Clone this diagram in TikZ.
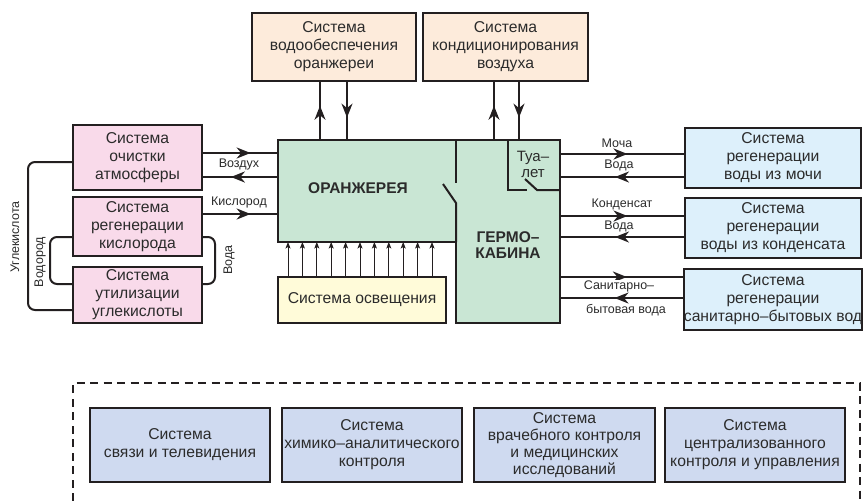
\documentclass[tikz,border=0pt]{standalone}
\usepackage{fontspec}
\setmainfont{Liberation Sans}
\usetikzlibrary{arrows.meta,decorations.markings}
\definecolor{ln}{HTML}{231F20}
\definecolor{txt}{HTML}{2B2B2B}
\definecolor{pinkc}{HTML}{F9DAEA}
\definecolor{peachc}{HTML}{FDEBDB}
\definecolor{greenc}{HTML}{C9E6D4}
\definecolor{yellowc}{HTML}{FFFBD9}
\definecolor{bluec}{HTML}{DDF0FB}
\definecolor{lavc}{HTML}{CFDAF0}
\tikzset{
  box/.style={draw=ln, line width=2pt, inner sep=0pt, outer sep=0pt, align=center, text=txt,
    font=\fontsize{15.7}{18}\selectfont},
  flow/.style={draw=ln, line width=2pt},
  midarr/.style={decoration={markings, mark=at position #1 with {\arrow{Stealth[length=14pt,width=11pt,inset=4.5pt]}}}, postaction={decorate}},
  lbl/.style={font=\fontsize{12.5}{14}\selectfont, text=txt, inner sep=0pt},
  thinarr/.style={draw=ln, line width=0.9pt, -{Stealth[length=6.5pt,width=5pt,inset=1.5pt]}},
  loop/.style={draw=ln, line width=2pt, rounded corners=7pt},
  bigtxt/.style={font=\bfseries\fontsize{15.5}{17}\selectfont, text=txt, align=center, inner sep=0pt}
}
\begin{document}
\begin{tikzpicture}[x=1pt,y=-1pt]
\useasboundingbox (0,0) rectangle (863,501);

% green complex
\fill[greenc] (278,140) -- (560,140) -- (560,323) -- (456,323) -- (456,242) -- (278,242) -- cycle;
\node[inner sep=0pt, outer sep=0pt, minimum width=178pt, minimum height=102pt] (oran) at (367,191) {};
\node[inner sep=0pt, outer sep=0pt, minimum width=104pt, minimum height=183pt] (germ) at (508,231.5) {};
\draw[ln, line width=2pt, line join=miter] (278,140) -- (560,140) -- (560,323) -- (456,323) -- (456,242) -- (278,242) -- cycle;
\draw[ln, line width=2pt] (456,140) -- (456,183);
\draw[ln, line width=2pt] (443,184) -- (456,203) -- (456,242);
\draw[ln, line width=2pt] (508,140) -- (508,190) -- (527,190);
\draw[ln, line width=2pt] (525,179) -- (537,190) -- (560,190);
\node[bigtxt] (torn) at (358,188) {ОРАНЖЕРЕЯ};
\node[bigtxt] (tgerm) at (508,245) {ГЕРМО–\\[-1pt]КАБИНА};
\node[box, draw=none, fill=none, font=\fontsize{15}{17}\selectfont] (tual) at (533,164) {Туа–\\[-1pt]лет};

% left boxes
\node[box, fill=pinkc, minimum width=129pt, minimum height=65pt] (och) at (137.5,157.5) {Система\\очистки\\атмосферы};
\node[box, fill=pinkc, minimum width=129pt, minimum height=59pt] (reg) at (137.5,226.5) {Система\\регенерации\\кислорода};
\node[box, fill=pinkc, minimum width=129pt, minimum height=56pt] (uti) at (137.5,295) {Система\\утилизации\\углекислоты};

% top boxes
\node[box, fill=peachc, minimum width=164pt, minimum height=68pt] (vod) at (334,47) {Система\\водообеспечения\\оранжереи};
\node[box, fill=peachc, minimum width=165pt, minimum height=68pt] (kon) at (505.5,47) {Система\\кондиционирования\\воздуха};

% lighting
\node[box, fill=yellowc, minimum width=168pt, minimum height=46pt] (osv) at (362,300) {Система освещения};

% right boxes
\node[box, fill=bluec, minimum width=176pt, minimum height=60pt] (r1) at (773,158) {Система\\регенерации\\воды из мочи};
\node[box, fill=bluec, minimum width=176pt, minimum height=60pt] (r2) at (773,228) {Система\\регенерации\\воды из конденсата};
\node[box, fill=bluec, minimum width=176pt, minimum height=61pt] (r3) at (773,299.5) {Система\\регенерации\\санитарно–бытовых вод};

% bottom boxes
\draw[ln, line width=2.5pt, dash pattern=on 8pt off 5.5pt] (73,501) -- (73,383) -- (860,383) -- (860,501);
\node[box, fill=lavc, minimum width=180pt, minimum height=74pt] (b1) at (180,445) {Система\\связи и телевидения};
\node[box, fill=lavc, minimum width=180pt, minimum height=74pt] (b2) at (372,445) {Система\\химико–аналитического\\контроля};
\node[box, fill=lavc, minimum width=181pt, minimum height=74pt, font=\fontsize{15.7}{17.2}\selectfont] (b3) at (564.5,445) {Система\\врачебного контроля\\и медицинских\\исследований};
\node[box, fill=lavc, minimum width=180pt, minimum height=74pt] (b4) at (755,445) {Система\\централизованного\\контроля и управления};

% top arrows
\draw[flow, midarr=0.58] ([xshift=-14pt]vod.south |- oran.north) -- ([xshift=-14pt]vod.south);
\draw[flow, midarr=0.62] ([xshift=13pt]vod.south) -- ([xshift=13pt]vod.south |- oran.north);
\draw[flow, midarr=0.58] ([xshift=-11.5pt]kon.south |- germ.north) -- ([xshift=-11.5pt]kon.south);
\draw[flow, midarr=0.62] ([xshift=13.5pt]kon.south) -- ([xshift=13.5pt]kon.south |- germ.north);

% left arrows
\draw[flow, midarr=0.64] ([yshift=4.5pt]och.east) -- ([yshift=4.5pt]och.east -| oran.west);
\draw[flow, midarr=0.62] ([yshift=-19.5pt]och.east -| oran.west) -- ([yshift=-19.5pt]och.east);
\node[lbl] (lvoz) at (239,164) {Воздух};
\draw[flow, midarr=0.64] ([yshift=12.5pt]reg.east) -- ([yshift=12.5pt]reg.east -| oran.west);
\node[lbl] (lkis) at (239,202) {Кислород};

% loops
\draw[loop] ([yshift=-4.5pt]och.west) -- (28,162) -- (28,310) -- ([yshift=-15pt]uti.west);
\draw[loop] ([yshift=-10.5pt]reg.west) -- (50,237) -- (50,284) -- ([yshift=11pt]uti.west);
\draw[loop] ([yshift=-10.5pt]reg.east) -- (215,237) -- (215,284) -- ([yshift=11pt]uti.east);
\node[lbl, rotate=90] (lugl) at (15,237) {Углекислота};
\node[lbl, rotate=90] (lvdr) at (40,262) {Водород};
\node[lbl, rotate=90] (lvod) at (229,260) {Вода};

% right arrows
\draw[flow, midarr=0.54] ([yshift=4pt]r1.west -| germ.east) -- ([yshift=4pt]r1.west);
\draw[flow, midarr=0.56] ([yshift=-19pt]r1.west) -- ([yshift=-19pt]r1.west -| germ.east);
\node[lbl] (lmoch) at (617,143) {Моча};
\node[lbl] (lv1) at (619,165) {Вода};
\draw[flow, midarr=0.54] ([yshift=12pt]r2.west -| germ.east) -- ([yshift=12pt]r2.west);
\draw[flow, midarr=0.56] ([yshift=-9pt]r2.west) -- ([yshift=-9pt]r2.west -| germ.east);
\node[lbl] (lkond) at (622,204) {Конденсат};
\node[lbl] (lv2) at (619,226) {Вода};
\draw[flow, midarr=0.54] ([yshift=22.5pt]r3.west -| germ.east) -- ([yshift=22.5pt]r3.west);
\draw[flow, midarr=0.56] ([yshift=1.5pt]r3.west) -- ([yshift=1.5pt]r3.west -| germ.east);
\node[lbl, fill=white, inner sep=0.5pt] (lsan) at (619,286) {Санитарно–};
\node[lbl] (lbyt) at (626,310) {бытовая вода};

% lighting arrows
\foreach \i in {0,...,10} {
  \draw[thinarr] ([xshift={10+14.4*\i}]osv.north west) -- ([xshift={10+14.4*\i}]osv.north west |- oran.south);
}
\end{tikzpicture}
\end{document}
